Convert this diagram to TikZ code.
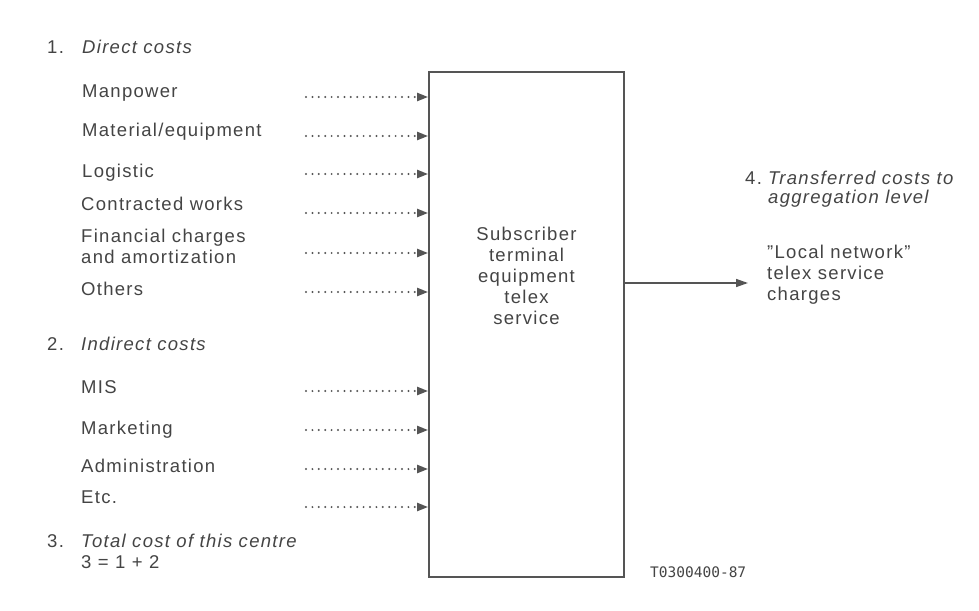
\documentclass[tikz,border=0pt]{standalone}
\usepackage{fontspec}
\setmainfont{Liberation Sans}[LetterSpace=7]
\newfontfamily\codefont{DejaVu Sans Mono}
\usetikzlibrary{arrows.meta}
\definecolor{ink}{HTML}{444444}
\definecolor{rule}{HTML}{555555}
\tikzset{
  txt/.style={inner sep=0pt, text=ink, font=\fontsize{18.5}{21}\selectfont},
  lbl/.style={txt, anchor=base west},
  blocklbl/.style={txt, anchor=north west, align=left},
  head/.style={lbl, font=\fontsize{18.5}{21}\selectfont\itshape},
  feed/.style={draw=rule, line width=2.2pt, line cap=round,
    dash pattern=on 0pt off 6.4pt, -{Triangle[length=11pt,width=8pt]}},
  flow/.style={draw=rule, line width=1.5pt, -{Triangle[length=12pt,width=8pt]}},
  centre/.style={draw=rule, line width=1.8pt, minimum width=195pt,
    minimum height=505pt, inner sep=0pt}
}
\begin{document}
\begin{tikzpicture}[x=1pt,y=-1pt]
\useasboundingbox (0,0) rectangle (979,610);

% cost centre
\node[centre] (box) at (526.5,324.5) {};
\node[txt, anchor=north, align=center] (boxtxt) at (526.5,226.5)
  {Subscriber\\terminal\\equipment\\telex\\service};

% 1. direct costs
\node[lbl] (n1) at (47,54) {1.};
\node[head] (h1) at (82,54) {Direct costs};
\node[lbl] (manp) at (82,97) {Manpower};
\node[lbl] (matl) at (82,136) {Material/equipment};
\node[lbl] (logi) at (82,177) {Logistic};
\node[lbl] (cont) at (81,210) {Contracted works};
\node[blocklbl] (fin) at (81,228.5) {Financial charges\\and amortization};
\node[lbl] (oth) at (81,295) {Others};

% 2. indirect costs
\node[lbl] (n2) at (47,350) {2.};
\node[head] (h2) at (81,350) {Indirect costs};
\node[lbl] (mis) at (81,393) {MIS};
\node[lbl] (mkt) at (81,434) {Marketing};
\node[lbl] (adm) at (81,472) {Administration};
\node[lbl] (etc) at (81,503) {Etc.};

% 3. total
\node[lbl] (n3) at (47,547) {3.};
\node[head] (h3) at (81,547) {Total cost of this centre};
\node[lbl] (sum) at (81,568) {3 = 1 + 2};

% 4. transferred costs
\node[lbl] (n4) at (745,184) {4.};
\node[blocklbl, font=\fontsize{18.5}{19.5}\selectfont\itshape] (h4) at (768,170.5)
  {Transferred costs to\\aggregation level};
\node[blocklbl] (dest) at (767,244.5) {''Local network''\\telex service\\charges};

% figure reference
\node[anchor=base west, inner sep=0pt, text=ink, font=\codefont\fontsize{14.5}{16}\selectfont]
  (ref) at (650,577) {T0300400-87};

% start points of the feeding arrows
\foreach \name/\y in {a1/97, a2/136, a3/174, a4/213, a5/253, a6/292,
                      b1/391, b2/430, b3/469, b4/507}
  \coordinate (\name) at (306,\y);
\foreach \name in {a1,a2,a3,a4,a5,a6,b1,b2,b3,b4}
  \draw[feed] (\name) -- (\name -| box.west);

% output arrow
\coordinate (out) at (748,283);
\draw[flow] (out -| box.east) -- (out);
\end{tikzpicture}
\end{document}
